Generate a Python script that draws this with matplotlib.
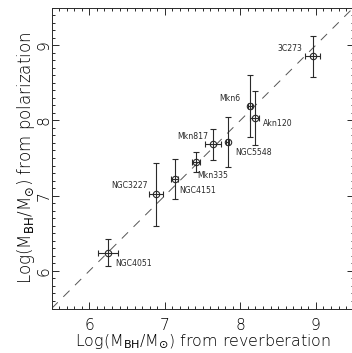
import matplotlib
matplotlib.use("Agg")
import matplotlib.pyplot as plt
from matplotlib.ticker import MultipleLocator

names = ["NGC4051", "NGC3227", "NGC4151", "Mkn335", "Mkn817",
         "NGC5548", "Mkn6", "Akn120", "3C273"]
log_rev = [6.25, 6.88, 7.13, 7.41, 7.64, 7.83, 8.13, 8.19, 8.96]
log_pol = [6.24, 7.02, 7.22, 7.445, 7.68, 7.71, 8.19, 8.03, 8.85]
err_rev = [0.13, 0.09, 0.05, 0.05, 0.11, 0.02, 0.03, 0.06, 0.10]
err_pol = [0.18, 0.42, 0.27, 0.13, 0.21, 0.33, 0.41, 0.36, 0.27]
label_offsets = [(5.3, -7.4, "left"), (-5.5, 6.0, "right"), (3.1, -7.9, "left"),
                 (0.8, -9.9, "left"), (-3.6, 5.5, "right"), (5.5, -7.2, "left"),
                 (-6.7, 5.3, "right"), (5.8, -3.8, "left"), (-7.9, 5.5, "right")]

W, H = 352, 353
fig = plt.figure(figsize=(W / 100, H / 100), dpi=100)
left, right, top, bottom = 51.6, 353.6, 7.5, 308.5
ax = fig.add_axes([left / W, 1 - bottom / H, (right - left) / W, (bottom - top) / H])

c = "#2a2a2a"
tc = "#000000"
fw = "light"
ax.plot([5.5, 9.5], [5.5, 9.5], color="#555555", lw=0.7, dashes=(9, 8))
ax.errorbar(log_rev, log_pol, xerr=err_rev, yerr=err_pol, fmt="o",
            mfc="none", mec=c, ms=4.6, mew=0.8, ecolor=c, elinewidth=0.8,
            capsize=1.9, capthick=0.8)
for n, x, y, (dx, dy, ha) in zip(names, log_rev, log_pol, label_offsets):
    ax.annotate(n, (x, y), xytext=(dx, dy), textcoords="offset points",
                ha=ha, va="center", fontsize=5.6, color=c)

ax.set_xlim(5.5, 9.5)
ax.set_ylim(5.5, 9.5)
ax.xaxis.set_major_locator(MultipleLocator(1))
ax.xaxis.set_minor_locator(MultipleLocator(0.1))
ax.yaxis.set_major_locator(MultipleLocator(1))
ax.yaxis.set_minor_locator(MultipleLocator(0.1))
ax.tick_params(which="both", direction="in", top=True, right=True, color=c,
               width=0.7, labelcolor=tc, labelsize=11.2)
ax.tick_params(which="major", length=5)
ax.tick_params(which="minor", length=2.5)
ax.tick_params(axis="x", pad=7)
ax.tick_params(axis="y", pad=0)
for lab in ax.get_yticklabels() + ax.get_xticklabels():
    lab.set_fontweight(fw)
for lab in ax.get_yticklabels():
    lab.set_rotation(90)
    lab.set_va("center")
for s in ax.spines.values():
    s.set_color(c)
    s.set_linewidth(0.7)

ax.set_xlabel(r"Log(M$_{\rm BH}$/M$_{\odot}$) from reverberation",
              fontsize=11.4, color=tc, labelpad=-0.5, fontweight=fw)
ax.set_ylabel(r"Log(M$_{\rm BH}$/M$_{\odot}$) from polarization",
              fontsize=12, color=tc, labelpad=0, fontweight=fw)

fig.savefig("out.png", dpi=100)
